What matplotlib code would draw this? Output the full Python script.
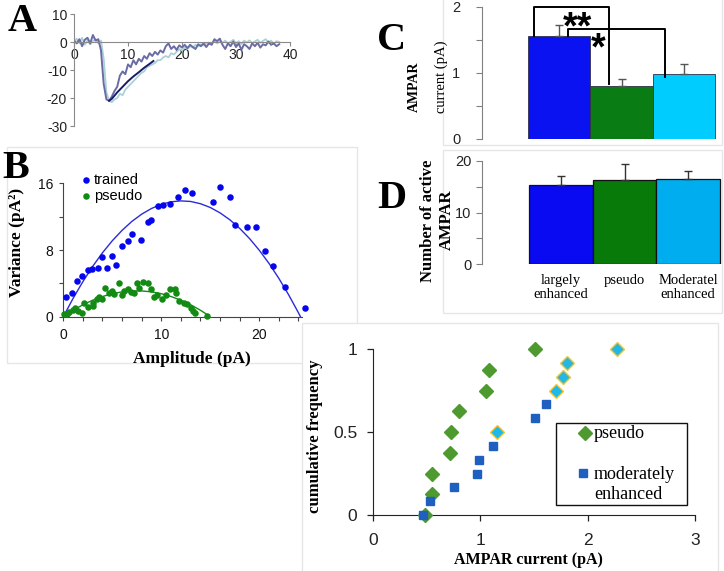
import matplotlib
matplotlib.use("Agg")
import matplotlib.pyplot as plt
from matplotlib.patches import Rectangle
import numpy as np

SANS = "Liberation Sans"
SERIF = "Liberation Serif"
plt.rcParams["font.family"] = [SANS, "DejaVu Sans"]
plt.rcParams["axes.unicode_minus"] = False

# ---------------- data ----------------
# Panel A: example traces (pA) sampled every 0.5 ms from 0 to 38 ms
trace_t = np.arange(0, 38.5, 0.5)
trace_slate = [0.5, -0.5, 1.0, -1.5, 0.8, 1.5, -0.5, 2.5, 0.5, 1.0,
               -3.0, -15.0, -20.5, -21.0, -19.5, -17.5, -16.0, -12.0, -10.5, -11.5,
               -8.0, -9.0, -6.5, -8.0, -6.0, -7.0, -5.0, -6.0, -4.0, -5.0,
               -3.5, -4.5, -3.0, -3.8, -1.5, -0.5, -2.5, -1.5, -2.8, -1.2,
               -2.0, -1.0, -2.2, -1.0, -1.8, -2.5, -0.8, -1.5, -0.5, -1.8,
               -0.5, -1.0, 1.0, 0.3, 1.2, -1.0, -2.5, -0.5, -1.5, 0.2,
               -1.8, -0.5, -2.8, -0.8, -1.5, -2.5, -0.5, -1.5, -0.3, -2.0,
               -0.8, -1.2, 0.2, -1.0, -0.5, -1.5, -0.8]
trace_light = [0.0, 1.2, -0.5, 1.5, -1.0, 0.5, -0.8, 0.3, 1.0, -0.5,
               0.5, -6.0, -18.0, -21.0, -21.5, -20.5, -20.0, -18.5, -19.0, -17.0,
               -16.0, -15.0, -14.0, -13.0, -12.0, -11.0, -10.5, -9.0, -8.5, -8.0,
               -7.5, -6.5, -6.5, -5.5, -5.0, -5.5, -4.0, -4.5, -3.5, -2.5,
               -3.0, -2.0, -2.5, -1.5, -2.0, -1.0, -1.5, -0.8, -1.2, -0.5,
               -0.2, -0.8, 0.5, -0.5, 0.2, -0.3, 0.5, -0.5, 0.0, 0.8,
               -0.5, 0.3, -0.8, 0.5, -0.2, 0.6, -0.4, 0.2, 0.8, -0.3,
               0.4, 1.0, -0.2, 0.5, -0.6, 0.3, 0.0]
fit_t = [6.5, 7, 8, 9, 10, 11, 12, 13, 14, 14.7]
fit_v = [-21.0, -20.3, -18.0, -16.0, -14.0, -12.3, -10.8, -9.2, -7.8, -6.8]

# Panel B: variance vs amplitude
trained_x = [0.28, 0.92, 1.36, 1.9, 2.48, 2.96, 3.5, 3.98, 4.42, 5.0, 5.38, 5.99,
             6.6, 6.98, 7.93, 8.67, 9.0, 9.63, 10.17, 10.9, 11.67, 12.4, 13.16,
             15.24, 16.02, 17.0, 17.52, 18.78, 19.7, 20.55, 21.4, 22.65, 24.63]
trained_y = [2.33, 2.9, 4.3, 4.9, 5.6, 5.7, 5.8, 7.2, 5.9, 7.3, 6.2, 8.45,
             9.1, 9.96, 9.24, 11.37, 11.65, 13.3, 13.37, 13.5, 14.3, 15.17, 14.85,
             13.73, 15.6, 14.4, 11.0, 10.73, 10.73, 7.85, 6.05, 3.6, 1.0]
pseudo_x = [0.05, 0.35, 0.6, 0.96, 1.2, 1.53, 1.87, 2.1, 2.55, 3.0, 3.0, 3.47,
            3.67, 3.9, 4.3, 4.7, 4.95, 5.2, 5.65, 5.96, 6.2, 6.57, 6.88, 7.2,
            7.55, 7.76, 8.16, 8.67, 8.92, 9.26, 9.59, 10.04, 10.48, 10.9, 11.4,
            11.55, 11.84, 12.3, 12.65, 13.03, 13.2, 13.4, 14.7]
pseudo_y = [0.29, 0.29, 0.55, 0.8, 1.0, 0.72, 0.48, 1.6, 1.15, 1.28, 1.7, 2.1,
            2.4, 2.1, 3.5, 2.9, 3.1, 2.7, 4.1, 2.6, 3.1, 3.3, 3.0, 2.8,
            4.1, 3.5, 4.15, 4.1, 3.3, 2.4, 2.6, 2.1, 2.6, 3.3, 3.3,
            2.9, 1.9, 1.6, 1.5, 1.0, 0.68, 0.48, 0.12]
trained_fit_x = [0, 1, 2, 3, 4, 5, 6, 7, 8, 9, 10, 11, 12, 13, 14, 15, 16, 17,
                 18, 19, 20, 21, 22, 23, 24, 24.2]
trained_fit_y = [0, 2.20, 4.21, 6.04, 7.67, 9.11, 10.36, 11.43, 12.30, 12.98,
                 13.48, 13.78, 13.89, 13.82, 13.55, 13.10, 12.45, 11.62, 10.59,
                 9.38, 7.97, 6.38, 4.59, 2.62, 0.46, 0.0]
pseudo_fit_x = [0, 1, 2, 3, 4, 5, 6, 7, 8, 9, 10, 11, 12, 13, 14, 14.7]
pseudo_fit_y = [0, 0.77, 1.43, 1.98, 2.42, 2.76, 2.98, 3.09, 3.09, 2.98, 2.76,
                2.42, 1.98, 1.43, 0.77, 0.24]

# Panel C: AMPAR current
groups = ["largely\nenhanced", "pseudo", "Moderatel\nenhanced"]
c_vals = [1.565, 0.81, 0.985]
c_err = [0.16, 0.10, 0.15]
# Panel D: number of active AMPAR
d_vals = [15.4, 16.2, 16.4]
d_err = [1.6, 3.1, 1.6]

# Panel E: cumulative frequency
e_pseudo_x = [0.49, 0.55, 0.55, 0.72, 0.73, 0.80, 1.05, 1.08, 1.51]
e_pseudo_y = [0.0, 0.125, 0.25, 0.375, 0.5, 0.625, 0.75, 0.875, 1.0]
e_mod_x = [0.47, 0.53, 0.76, 0.97, 0.99, 1.12, 1.51, 1.61]
e_mod_y = [0.0, 0.083, 0.167, 0.25, 0.333, 0.417, 0.583, 0.667]
e_hl_x = [1.16, 1.71, 1.77, 1.81, 2.27]
e_hl_y = [0.5, 0.75, 0.833, 0.917, 1.0]

# ---------------- figure ----------------
W, H = 724, 571
fig = plt.figure(figsize=(7.24, 5.71), dpi=100)


def ax_px(left, top, right, bottom):
    a = fig.add_axes([left / W, 1 - bottom / H, (right - left) / W, (bottom - top) / H])
    a.set_facecolor("none")
    return a


def ftext(x, y, s, **kw):
    return fig.text(x / W, 1 - y / H, s, **kw)


def box(l, t, r, b, color="#e6e6e6", fill=False, z=-1):
    fig.patches.append(Rectangle((l / W, 1 - b / H), (r - l) / W, (b - t) / H,
                                 transform=fig.transFigure, fill=fill,
                                 facecolor="white", edgecolor=color, lw=1, zorder=z))

# faint panel frames
box(7, 147, 357, 363)
box(443, -5, 722, 145)
box(443, 150, 722, 313)
box(302, 323, 718, 580, fill=True, z=-0.5)

# ---------- Panel A ----------
axA = ax_px(74, 14, 290, 126)
axA.set_xlim(0, 40)
axA.set_ylim(-30, 10)
axA.plot(trace_t, trace_light, color="#a9d2d8", lw=1.3)
axA.plot(trace_t, trace_slate, color="#6b6ba6", lw=1.4)
axA.plot(fit_t, fit_v, color="#1c1c66", lw=1.4)
axA.spines["bottom"].set_position(("data", 0))
for s in ["top", "right"]:
    axA.spines[s].set_visible(False)
for s in ["left", "bottom"]:
    axA.spines[s].set_color("#8a8a8a")
axA.set_yticks([10, 0, -10, -20, -30])
axA.set_xticks([0, 10, 20, 30, 40])
axA.tick_params(axis="both", colors="#8a8a8a", labelcolor="#222222",
                labelsize=10, length=3, width=0.8)
axA.tick_params(axis="x", pad=1.5)
axA.tick_params(axis="y", pad=2)

# ---------- Panel B ----------
axB = ax_px(63.3, 183.3, 302.4, 316.7)
axB.set_xlim(0, 24.4)
axB.set_ylim(0, 16)
axB.plot(trained_fit_x, trained_fit_y, color="#2b2bd9", lw=1.0, clip_on=False)
axB.plot(pseudo_fit_x, pseudo_fit_y, color="#138a13", lw=1.0, clip_on=False)
axB.scatter(trained_x, trained_y, s=22, color="#0505ee", zorder=3, clip_on=False,
            label="trained", linewidths=0)
axB.scatter(pseudo_x, pseudo_y, s=22, color="#138a13", zorder=3, clip_on=False,
            label="pseudo", linewidths=0)
for s in ["top", "right"]:
    axB.spines[s].set_visible(False)
for s in ["left", "bottom"]:
    axB.spines[s].set_color("#444444")
axB.set_xticks(list(range(0, 25, 2)))
axB.set_xticklabels(["0", "", "", "", "", "10", "", "", "", "", "20", "", ""])
axB.set_yticks([0, 4, 8, 12, 16])
axB.set_yticklabels(["0", "", "8", "", "16"])
axB.tick_params(axis="both", colors="#444444", labelcolor="#111111",
                labelsize=10, length=3, width=0.8)
axB.tick_params(axis="x", pad=5)
axB.tick_params(axis="y", pad=4)
legB = axB.legend(loc="upper left", bbox_to_anchor=(0.075, 1.075), frameon=False,
                  borderpad=0, borderaxespad=0, handlelength=0.6, handletextpad=0.25,
                  labelspacing=0.12, scatterpoints=1, prop={"family": SANS, "size": 10.5})

ftext(17.5, 242.5, "Variance (pA²)", rotation=90, ha="center", va="center",
      family=SERIF, weight="bold", fontsize=12.5)
ftext(191.7, 359, "Amplitude (pA)", ha="center", va="center",
      family=SERIF, weight="bold", fontsize=12.5)

# ---------- Panel C ----------
xpos = np.arange(len(groups))
c_colors = ["#0b12f2", "#0a7c14", "#00ccfd"]
axC = ax_px(482, 7, 718, 139)
axC.set_xlim(-1.238, 2.548)
axC.set_ylim(0, 2)
axC.bar(xpos, c_vals, width=1.0, color=c_colors, edgecolor="#30304a", lw=0.6, zorder=2)
axC.errorbar(xpos, c_vals, yerr=[[0, 0, 0], c_err], fmt="none", ecolor="#555555",
             elinewidth=1.0, capsize=3, capthick=1.0, zorder=3)
for s in ["top", "right", "bottom"]:
    axC.spines[s].set_visible(False)
axC.spines["left"].set_color("#808080")
axC.set_xticks([])
axC.set_yticks([0, 0.5, 1, 1.5, 2])
axC.set_yticklabels(["0", "", "1", "", "2"])
axC.tick_params(axis="y", colors="#808080", labelcolor="#222222", labelsize=10.5,
                length=4.5, width=0.8, pad=11)
# significance brackets (annotation)
brk_two = ([-0.404, -0.404, 0.80, 0.80], [1.565, 1.995, 1.995, 0.833])
brk_one = ([0.142, 0.142, 1.698, 1.698], [1.565, 1.668, 1.668, 0.94])
axC.plot(*brk_two, color="black", lw=1.4, zorder=4, clip_on=False)
axC.plot(*brk_one, color="black", lw=1.4, zorder=4, clip_on=False)
axC.text(0.30, 1.68, "**", ha="center", va="center", fontsize=27, weight="bold",
         family=SANS, zorder=5)
axC.text(0.62, 1.36, "*", ha="center", va="center", fontsize=27, weight="bold",
         family=SANS, zorder=5)
ftext(414, 87, "AMPAR", rotation=90, ha="center", va="center", family=SERIF,
      weight="bold", fontsize=10)
ftext(441.7, 77, "current (pA)", rotation=90, ha="center", va="center", family=SERIF,
      fontsize=10.5)

# ---------- Panel D ----------
d_colors = ["#0a0af2", "#077a0a", "#00aeef"]
axD = ax_px(482, 160.7, 722, 264.3)
axD.set_xlim(-1.238, 2.53)
axD.set_ylim(0, 20)
axD.bar(xpos, d_vals, width=1.0, color=d_colors, edgecolor="#111111", lw=0.9, zorder=2)
axD.errorbar(xpos, d_vals, yerr=[[0, 0, 0], d_err], fmt="none", ecolor="#333333",
             elinewidth=1.0, capsize=3, capthick=1.0, zorder=3)
for s in ["top", "right", "bottom"]:
    axD.spines[s].set_visible(False)
axD.spines["left"].set_color("#808080")
axD.set_yticks([0, 5, 10, 15, 20])
axD.set_yticklabels(["0", "", "10", "", "20"])
axD.tick_params(axis="y", colors="#808080", labelcolor="#222222", labelsize=10.5,
                length=4.5, width=0.8, pad=3)
axD.set_xticks(xpos)
axD.set_xticklabels(groups, family=SERIF, fontsize=10.5, linespacing=1.05)
axD.tick_params(axis="x", length=0, pad=7)
ftext(428, 221, "Number of active", rotation=90, ha="center", va="center",
      family=SERIF, weight="bold", fontsize=12)
ftext(447, 220, "AMPAR", rotation=90, ha="center", va="center",
      family=SERIF, weight="bold", fontsize=12)

# ---------- Panel E ----------
axE = ax_px(372.7, 349.3, 695, 515)
axE.set_zorder(2)
axE.set_xlim(0, 3)
axE.set_ylim(0, 1)
axE.plot(e_pseudo_x, e_pseudo_y, ls="none", marker="D", ms=7, color="#4f9a2e",
         mec="#4f9a2e", clip_on=False, zorder=3)
axE.plot(e_mod_x, e_mod_y, ls="none", marker="s", ms=6, color="#1f5fc0",
         mec="#1f5fc0", clip_on=False, zorder=4)
axE.plot(e_hl_x, e_hl_y, ls="none", marker="D", ms=7, mfc="#1fb8e8",
         mec="#f3c530", mew=1.0, clip_on=False, zorder=4)
for s in ["top", "right"]:
    axE.spines[s].set_visible(False)
for s in ["left", "bottom"]:
    axE.spines[s].set_color("#222222")
axE.set_xticks([0, 1, 2, 3])
axE.set_yticks([0, 0.5, 1])
axE.set_yticklabels(["0", "0.5", "1"])
axE.tick_params(axis="both", colors="#222222", labelsize=12.5, length=4, width=0.9)
axE.tick_params(axis="x", pad=9)
axE.tick_params(axis="y", pad=7)
ftext(315, 436, "cumulative frequency", rotation=90, ha="center", va="center",
      family=SERIF, weight="bold", fontsize=12)
ftext(528.7, 560, "AMPAR current (pA)", ha="center", va="center",
      family=SERIF, weight="bold", fontsize=11.5)

# legend for panel E (drawn as a framed key)
leg_l, leg_t, leg_r, leg_b = 556, 422.7, 687, 505
fig.patches.append(Rectangle((leg_l / W, 1 - leg_b / H), (leg_r - leg_l) / W,
                             (leg_b - leg_t) / H, transform=fig.transFigure,
                             fill=True, facecolor="white", edgecolor="#111111",
                             lw=1.0, zorder=3))
fig.lines.append(plt.Line2D([585 / W], [1 - 433 / H], transform=fig.transFigure,
                            ls="none", marker="D", ms=7, color="#4f9a2e", zorder=4))
fig.lines.append(plt.Line2D([583 / W], [1 - 473 / H], transform=fig.transFigure,
                            ls="none", marker="s", ms=6, color="#1f5fc0", zorder=4))
ftext(594, 433, "pseudo", ha="left", va="center", family=SERIF, fontsize=13, zorder=5)
ftext(594, 484.5, "moderately\nenhanced", ha="left", va="center", family=SERIF,
      fontsize=13, linespacing=1.25, zorder=5)

# panel letters
for lab, (lx, ly) in {"A": (22, 21.5), "B": (16, 168), "C": (392, 40), "D": (392, 199)}.items():
    ftext(lx, ly, lab, ha="center", va="center", family=SERIF, weight="bold", fontsize=29)

fig.savefig("out.png", dpi=100)
